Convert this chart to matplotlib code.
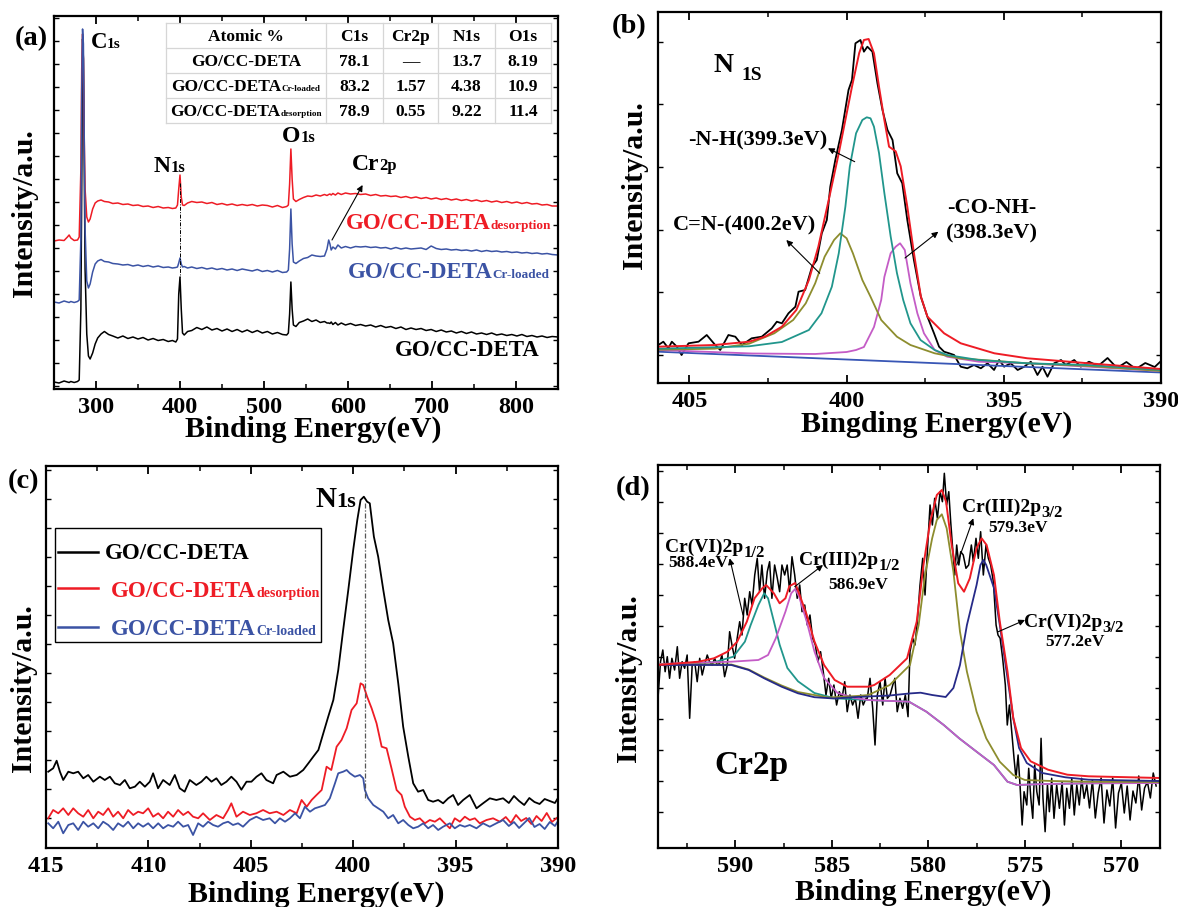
import matplotlib
matplotlib.use("Agg")
import matplotlib.pyplot as plt
import numpy as np
from matplotlib.ticker import MultipleLocator, FixedLocator
from matplotlib.lines import Line2D
from matplotlib.patches import Rectangle, FancyArrowPatch

# ----------------------------------------------------------------- data
# (a) survey spectra
energy_a = [
    250, 256, 262, 266, 268, 270, 274, 278, 280, 282,
    283, 284, 285, 286, 287, 289, 291, 293, 296, 299,
    302, 306, 310, 315, 320, 326, 332, 338, 344, 350,
    356, 362, 368, 374, 380, 386, 391, 395, 397, 398.5,
    400, 401.5, 403, 405, 409, 414, 420, 426, 432, 438,
    444, 450, 456, 462, 468, 474, 480, 486, 492, 498,
    504, 510, 516, 522, 527, 529, 530.5, 532, 533.5, 535,
    538, 542, 547, 552, 557, 562, 567, 572, 575, 577,
    578.5, 580, 582, 585, 588, 592, 597, 603, 609, 615,
    621, 627, 633, 639, 645, 651, 657, 663, 669, 675,
    681, 687, 693, 699, 705, 711, 717, 723, 729, 735,
    741, 747, 753, 759, 765, 771, 777, 783, 789, 795,
    801, 807, 813, 819, 825, 831, 837, 843, 850]
survey_deta = [
    7, 6, 8, 7, 6.5, 7.5, 6.5, 7.5, 9, 80,
    200, 350, 330, 220, 120, 55, 33, 30, 36, 45,
    51, 55, 57.5, 54.5, 53, 51, 53, 50.5, 52, 50,
    51.5, 49, 50.5, 48.5, 49.5, 47.5, 48.5, 47, 50, 95,
    112, 80, 56, 54, 57.5, 58.5, 61.5, 59.5, 62, 59,
    60.5, 58, 60, 57.5, 59.5, 57, 59, 56.5, 58.5, 56,
    57.5, 55, 56.5, 54.5, 54, 56, 75, 107, 80, 64,
    62.5, 66.5, 68, 70, 67.5, 69, 66.5, 67.5, 66, 66,
    65.5, 67, 64.5, 66.5, 64, 66, 64, 65.5, 63.5, 64.5,
    63, 64, 62, 63.5, 61.5, 62.5, 60.5, 62, 59.5, 61,
    59.5, 60.5, 58.5, 59.5, 57.5, 59, 57, 58, 56, 57.5,
    55.5, 57, 55, 56, 54.5, 56, 54, 55, 53.5, 54.5,
    53, 54.5, 52.5, 53.5, 52, 53, 51.5, 52.5, 52]
survey_loaded = [
    87, 86, 88, 87, 86.5, 87.5, 86.5, 87.5, 89, 150,
    300, 360, 345, 250, 160, 108, 101, 105, 117, 125,
    128, 129.5, 127.5, 127, 125.5, 125, 124, 124.5, 123, 124,
    122.5, 123.5, 122, 123, 121.5, 122, 121, 121.5, 122, 126,
    131, 125, 122, 122.5, 121, 122, 120.5, 121.5, 120, 121,
    119.5, 120.5, 119, 120, 118.5, 120, 119, 118, 119.5, 117.5,
    118.5, 117, 118.5, 116.5, 117, 119, 140, 180, 145, 127,
    125.5, 128, 130.5, 131.5, 134, 133, 132.5, 133, 140, 149,
    145, 139, 142, 140, 144, 141, 142.5, 141, 142.5, 142,
    142.5, 141.5, 142, 141, 141.5, 140, 141.5, 140, 141, 140,
    140.5, 141, 139.5, 143, 140.5, 139.5, 140, 139, 139.5, 138.5,
    139, 138, 139, 137.5, 138.5, 137.5, 138, 137, 137.5, 136.5,
    137, 136, 136.5, 135.5, 136, 135, 135.5, 134.5, 134]
survey_desorb = [
    148, 149, 148.5, 152, 154, 151, 148.5, 149, 152, 220,
    320, 355, 330, 250, 200, 172, 167, 170, 180, 186,
    188, 189, 187.5, 187, 185.5, 186, 184.5, 185, 183.5, 184,
    182.5, 183, 181.5, 182.5, 181, 181.5, 180.5, 181, 184, 200,
    214, 192, 184, 183.5, 186, 187.5, 186.5, 187, 185.5, 186.5,
    184.5, 185.5, 184, 185, 183.5, 184.5, 183.5, 184.5, 183, 184,
    183.5, 182, 183.5, 181.5, 182.5, 184, 205, 240, 210, 190,
    187.5, 189.5, 191.5, 193, 192.5, 194, 193, 194.5, 193.5, 194.5,
    195, 194, 195.5, 194, 196, 194.5, 196, 195, 195.5, 194.5,
    195, 193.5, 194.5, 193, 193.5, 192.5, 193, 191.5, 192.5, 191,
    192, 190.5, 191.5, 190, 191, 189.5, 190.5, 189, 190, 188.5,
    189.5, 188, 189, 187.5, 188.5, 187, 188, 186.5, 187.5, 186,
    187, 185.5, 186.5, 185, 185.5, 184, 184.5, 183, 183]

table_header = ["Atomic %", "C1s", "Cr2p", "N1s", "O1s"]
table_samples = ["", "Cr-loaded", "desorption"]
table_values = [["78.1", "\u2014", "13.7", "8.19"],
                ["83.2", "1.57", "4.38", "10.9"],
                ["78.9", "0.55", "9.22", "11.4"]]

# (b) N1s high-resolution fit
n1s_E = [405.99, 405.83, 405.67, 405.56, 405.4, 405.25, 405.03, 404.71, 404.45, 404.18,
         404.02, 403.76, 403.54, 403.33, 403.02, 402.7, 402.38, 402.22, 402.06, 401.85,
         401.63, 401.53, 401.32, 401.1, 400.95, 400.79, 400.63, 400.52, 400.36, 400.15,
         399.94, 399.83, 399.72, 399.56, 399.45, 399.34, 399.18, 399.02, 398.86, 398.7,
         398.54, 398.39, 398.23, 398.07, 397.86, 397.64, 397.43, 397.22, 397.06, 396.9,
         396.74, 396.58, 396.37, 396.16, 395.95, 395.73, 395.52, 395.31, 395.15, 394.99,
         394.78, 394.56, 394.35, 394.14, 393.93, 393.77, 393.61, 393.4, 393.18, 393.03,
         392.76, 392.55, 392.29, 392.0, 391.7, 391.4, 391.1, 390.8, 390.5, 390.2,
         390.0]
n1s_raw = [38, 41.3, 34.7, 41.3, 36.3, 28, 39.7, 41.3, 48, 38,
           33, 48, 46.3, 38, 44.7, 46.3, 54.7, 61.3, 59.7, 69.7,
           76.3, 91.3, 93, 116.3, 123, 149.7, 163, 196.3, 223, 253,
           293, 303, 339.7, 343, 331.3, 336.3, 331.3, 299.7, 273, 253,
           243, 209.7, 199.7, 163, 123, 86.3, 66.3, 49.7, 36.3, 31.3,
           29.7, 28, 16.3, 14.7, 18, 14.7, 19.7, 13, 23, 16.3,
           19.7, 13, 16.3, 21.3, 8, 16.3, 6.3, 19.7, 23, 18,
           23, 16.3, 21.3, 17, 25, 15, 21, 14, 20, 16,
           22]
fit_E = [406.0, 405.25, 404.2, 403.1, 402.6, 402.06, 401.6, 401.2, 400.9, 400.57,
         400.25, 400.04, 399.83, 399.6, 399.45, 399.3, 399.13, 398.97, 398.8, 398.65,
         398.44, 398.28, 398.07, 397.86, 397.64, 397.43, 396.9, 396.37, 395.3, 394.25,
         392.3, 390.0]
fit_sum = [36.3, 37, 38, 41.3, 46.3, 56.3, 73, 103, 136.3, 183,
           229.7, 263, 296.3, 330, 343, 344, 329.7, 296.3, 263, 236.3,
           231.7, 216.7, 176.3, 130, 86.7, 66.3, 49.7, 39.7, 29.7, 24.7,
           19.7, 14]
nh_E = [406.0, 403.1, 402.06, 401.2, 400.8, 400.47, 400.25, 400.04, 399.9, 399.7,
        399.5, 399.36, 399.24, 399.13, 398.97, 398.8, 398.6, 398.4, 398.2, 397.97,
        397.65, 397.2, 396.8, 395.8, 394.25, 392.3, 390.0]
nh_I = [34.3, 36.7, 41, 53, 69.7, 96.3, 129.7, 176.3, 216.3, 249.7,
        263, 265.7, 264.7, 256.3, 230, 190, 146.7, 110, 83, 59.7,
        43, 33, 28, 23, 19.7, 18, 13]
cn_E = [406.0, 404.2, 403.1, 402.3, 401.7, 401.3, 401.0, 400.7, 400.4, 400.2,
        400.0, 399.8, 399.5, 399.24, 398.9, 398.4, 397.97, 397.2, 396.4, 394.25,
        392.3, 390.0]
cn_I = [33.3, 34.3, 39.3, 49.7, 63, 79.7, 99.7, 126.3, 143, 149.7,
        144.7, 129.7, 103, 86.3, 63, 46.3, 38, 29.7, 24.7, 19.7,
        17, 12]
conh_E = [406.0, 403.0, 401.0, 400.0, 399.7, 399.45, 399.13, 398.9, 398.8, 398.6,
          398.44, 398.3, 398.15, 397.97, 397.75, 397.54, 397.2, 396.8, 395.8, 394.25,
          392.3, 390.0]
conh_I = [33, 29.5, 29, 31, 33, 36, 56, 83, 106, 129.7,
          136.3, 139.7, 133, 99.7, 69.7, 49.7, 33, 26.3, 21.3, 19.7,
          16.3, 12]
base_E = [406.0, 390.0]
base_I = [31.3, 10.5]

# (c) N1s comparison
c_deta_E = [414.89, 414.65, 414.48, 414.32, 414.16, 413.91, 413.67, 413.43, 413.18, 412.94,
            412.69, 412.37, 412.13, 411.88, 411.64, 411.39, 411.15, 410.91, 410.66, 410.42,
            410.17, 409.93, 409.77, 409.53, 409.28, 408.96, 408.71, 408.47, 408.23, 407.98,
            407.66, 407.41, 407.17, 406.92, 406.68, 406.44, 406.19, 405.95, 405.7, 405.46,
            405.21, 404.97, 404.72, 404.48, 404.24, 403.91, 403.74, 403.41, 403.09, 402.76,
            402.44, 402.19, 401.95, 401.7, 401.46, 401.22, 400.97, 400.73, 400.49, 400.24,
            400.0, 399.8, 399.64, 399.48, 399.32, 399.19, 398.99, 398.78, 398.53, 398.29,
            398.05, 397.8, 397.56, 397.31, 397.07, 396.83, 396.58, 396.34, 396.1, 395.85,
            395.61, 395.36, 395.12, 394.88, 394.63, 394.31, 393.98, 393.66, 393.33, 393.01,
            392.68, 392.4, 392.15, 391.9, 391.65, 391.4, 391.15, 390.9, 390.65, 390.4,
            390.15, 390.0]
c_deta_I = [76.3, 79.7, 87.3, 76.3, 68, 76.3, 74.7, 76.3, 69.7, 73,
            66.3, 71.3, 68, 71.3, 64.7, 63, 68, 59.7, 61.3, 66.3,
            61.3, 66.3, 74.7, 59.7, 68, 63, 73, 59.7, 56.3, 68,
            63, 66.3, 71.3, 66.3, 69.7, 63, 66.3, 71.3, 66.3, 58.3,
            66.3, 66.3, 71.3, 74.7, 68, 64.7, 73, 76.3, 71.3, 73,
            78, 84.7, 91.3, 98, 114.7, 131.3, 148, 178, 218, 258,
            298, 328, 348, 351.3, 346.3, 344.7, 311.3, 291.3, 258, 228,
            204.7, 164.7, 121.3, 91.3, 64.7, 56.3, 58, 48, 46.3, 48,
            44.7, 49.7, 53, 43, 48, 53, 39.7, 44.7, 49.7, 48,
            49.7, 45, 52, 47, 43, 50, 46, 44, 49, 47,
            45, 50]
c_desorb_E = [414.89, 414.65, 414.4, 414.16, 413.91, 413.67, 413.43, 413.18, 412.94, 412.69,
              412.45, 412.21, 411.96, 411.72, 411.48, 411.23, 410.99, 410.74, 410.5, 410.26,
              410.01, 409.77, 409.52, 409.28, 409.04, 408.79, 408.55, 408.3, 408.06, 407.82,
              407.57, 407.33, 407.0, 406.68, 406.35, 406.11, 405.95, 405.7, 405.38, 405.05,
              404.73, 404.4, 404.08, 403.74, 403.41, 403.09, 402.76, 402.52, 402.27, 402.03,
              401.79, 401.54, 401.3, 401.07, 400.81, 400.57, 400.32, 400.08, 399.83, 399.64,
              399.51, 399.32, 399.1, 398.86, 398.61, 398.37, 398.13, 397.88, 397.64, 397.48,
              397.23, 396.99, 396.75, 396.5, 396.26, 396.01, 395.77, 395.53, 395.28, 395.04,
              394.79, 394.55, 394.31, 394.06, 393.82, 393.49, 393.17, 392.84, 392.55, 392.3,
              392.05, 391.8, 391.55, 391.3, 391.05, 390.8, 390.55, 390.3, 390.0]
c_desorb_I = [29.7, 38, 34.7, 39.7, 33, 39.7, 34.7, 31.3, 38, 29.7,
              36.3, 33, 39.7, 31.3, 36.3, 29.7, 38, 33, 36.3, 34.7,
              39.7, 31.3, 34.7, 29.7, 36.3, 31.3, 38, 33, 36.3, 31.3,
              29.7, 34.7, 28, 33, 29.7, 38, 44.7, 31.3, 36.3, 33,
              34.7, 38, 34.7, 36.3, 33, 38, 34.7, 48, 41.3, 48,
              53, 58, 81.3, 78, 101.3, 108, 119.7, 138, 144.7, 164.7,
              163, 151.3, 139.7, 124.7, 101.3, 99.7, 79.7, 58, 53, 41.3,
              31.3, 28, 29.7, 24.7, 28, 26.3, 29.7, 24.7, 19.7, 29.7,
              26.3, 31.3, 28, 29.7, 24.7, 28, 29.7, 26.3, 31, 25,
              33, 27, 30, 24, 32, 27, 35, 26, 31]
c_loaded_E = [414.89, 414.65, 414.4, 414.16, 413.91, 413.67, 413.43, 413.18, 412.94, 412.69,
              412.45, 412.21, 411.96, 411.72, 411.48, 411.23, 410.99, 410.74, 410.5, 410.26,
              410.01, 409.77, 409.52, 409.28, 409.04, 408.79, 408.55, 408.3, 408.06, 407.82,
              407.57, 407.33, 407.08, 406.84, 406.6, 406.35, 406.11, 405.87, 405.62, 405.38,
              405.05, 404.73, 404.4, 404.08, 403.82, 403.58, 403.33, 403.09, 402.84, 402.6,
              402.36, 402.11, 401.87, 401.62, 401.38, 401.14, 400.89, 400.73, 400.49, 400.32,
              400.16, 399.92, 399.67, 399.51, 399.43, 399.27, 399.02, 398.78, 398.53, 398.29,
              398.05, 397.8, 397.56, 397.31, 397.07, 396.83, 396.58, 396.34, 396.1, 395.85,
              395.61, 395.28, 395.04, 394.79, 394.55, 394.31, 393.98, 393.66, 393.33, 393.01,
              392.68, 392.4, 392.15, 391.9, 391.65, 391.4, 391.15, 390.9, 390.65, 390.4,
              390.15, 390.0]
c_loaded_I = [24.7, 19.7, 26.3, 14.7, 23, 24.7, 18, 26.3, 21.3, 24.7,
              19.7, 26.3, 23, 18, 24.7, 21.3, 26.3, 19.7, 24.7, 21.3,
              24.7, 19.7, 24.7, 19.7, 23, 21.3, 26.3, 21.3, 23, 13,
              24.7, 21.3, 26.3, 23, 21.3, 24.7, 26.3, 23, 24.7, 21.3,
              28, 31.3, 28, 29.7, 24.7, 29.7, 26.3, 29.7, 34.7, 29.7,
              41.3, 36.3, 39.7, 41.3, 43, 49.7, 64.7, 74.7, 76.3, 78,
              74.7, 71.3, 73, 69.7, 58, 49.7, 43, 39.7, 36.3, 29.7,
              33, 24.7, 28, 23, 19.7, 21.3, 24.7, 19.7, 23, 18,
              21.3, 24.7, 19.7, 23, 21.3, 23, 19.7, 24.7, 21.3, 24.7,
              28, 22, 26, 20, 25, 30, 21, 24, 19, 26,
              22, 27]

# (d) Cr2p high-resolution fit
cr_raw_E = [594.0, 593.87, 593.75, 593.63, 593.52, 593.4, 593.28, 593.14, 593.0, 592.88,
            592.75, 592.62, 592.49, 592.36, 592.23, 592.1, 591.97, 591.84, 591.71, 591.59,
            591.45, 591.33, 591.19, 591.07, 590.93, 590.81, 590.69, 590.55, 590.41, 590.29,
            590.17, 590.03, 589.9, 589.77, 589.65, 589.51, 589.38, 589.25, 589.13, 588.99,
            588.86, 588.74, 588.62, 588.48, 588.34, 588.22, 588.1, 587.96, 587.82, 587.7,
            587.58, 587.44, 587.31, 587.18, 587.06, 586.92, 586.79, 586.66, 586.54, 586.4,
            586.27, 586.13, 585.99, 585.85, 585.72, 585.58, 585.44, 585.3, 585.16, 585.03,
            584.89, 584.75, 584.61, 584.47, 584.33, 584.2, 584.06, 583.92, 583.78, 583.64,
            583.5, 583.37, 583.23,
            583.16, 583.02, 582.88, 582.76, 582.64, 582.5, 582.36, 582.24, 582.12, 581.98,
            581.84, 581.73, 581.61, 581.47, 581.33, 581.19, 581.05, 580.95, 580.81, 580.69,
            580.57, 580.43, 580.29, 580.17, 580.05, 579.91, 579.79, 579.67, 579.53, 579.39,
            579.27, 579.17, 579.05, 578.94, 578.84, 578.74, 578.63, 578.53, 578.42, 578.32,
            578.19, 578.05, 577.91, 577.77, 577.67, 577.53, 577.41, 577.29, 577.15, 577.01,
            576.89, 576.77, 576.63, 576.49, 576.39, 576.28, 576.15, 576.01, 575.91, 575.8,
            575.68, 575.56, 575.46, 575.35, 575.25, 575.14, 575.04, 574.9, 574.8, 574.69,
            574.59, 574.49, 574.38, 574.26, 574.16, 574.06, 573.95, 573.83, 573.73, 573.61,
            573.49, 573.35, 573.21, 573.07, 572.95, 572.83, 572.69, 572.57, 572.44, 572.31,
            572.18, 572.06, 571.93, 571.79,
            571.65, 571.5, 571.35, 571.2, 571.05, 570.9, 570.75, 570.6, 570.45, 570.3,
            570.15, 570.0, 569.85, 569.7, 569.55, 569.4, 569.25, 569.1, 568.95, 568.8,
            568.65, 568.5, 568.35, 568.2]
cr_raw_I = [149.7, 186.3, 198, 176.3, 191.3, 169.7, 189.7, 178, 201.3, 169.7,
            186.3, 179.7, 193, 129.7, 183, 186.3, 166.3, 189.7, 173, 183,
            193, 186.3, 183, 189.7, 183, 184.7, 193, 171.3, 183, 216.3,
            203, 189.7, 209.7, 226.3, 213, 249.7, 233, 256.3, 243, 273,
            289.7, 256.3, 283, 249.7, 276.3, 286.3, 249.7, 283, 269.7, 256.3,
            283, 273, 283, 256.3, 291.3, 273, 249.7, 263, 236.3, 243,
            223, 233, 209.7, 203, 186.3, 196.3, 176.3, 153, 169.7, 149.7,
            163, 143, 156.3, 149.7, 166.3, 136.3, 153, 143, 149.7, 129.7,
            153, 143, 149.7,
            149.7, 169.7, 139.7, 103, 153, 166.3, 143, 169.7, 149.7, 153,
            163, 169.7, 136.3, 149.7, 139.7, 153, 131.3, 196.3, 209.7, 203,
            226.3, 263, 289.7, 253, 296.3, 343, 323, 349.7, 329.7, 356.3,
            346.3, 374.7, 343, 356.3, 326.3, 299.7, 273, 303, 283, 296.3,
            293, 279.7, 283, 303, 286.3, 309.7, 289.7, 316.3, 273, 303,
            289.7, 283, 266.3, 223, 213, 209.7, 189.7, 163, 123, 143,
            116.3, 89.7, 69.7, 93, 63, 23, 56.3, 43, 79.7, 49.7,
            29.7, 83, 56.3, 43, 109.7, 49.7, 16.3, 63, 36.3, 69.7,
            29.7, 63, 39.7, 66.3, 23, 59.7, 39.7, 69.7, 33, 63,
            43, 69.7, 49.7, 63,
            40, 68, 30, 55, 70, 25, 58, 42, 70, 20,
            55, 65, 35, 62, 28, 57, 45, 72, 38, 60,
            66, 50, 75, 62]
cr_sum_E = [594, 591.9, 591.1, 590.4, 589.9, 589.4, 589.0, 588.6, 588.4, 588.0,
            587.7, 587.4, 587.2, 586.9, 586.7, 586.3, 585.9, 585.4, 584.85, 584.2,
            583.1, 582.8, 582.0, 581.1, 580.6, 580.25, 579.9, 579.56, 579.3, 579.08,
            578.79, 578.45, 578.15, 577.85, 577.5, 577.24, 576.98, 576.6, 576.3, 575.9,
            575.6, 575.2, 574.7, 573.8, 572.8, 571.7, 568]
cr_sum_I = [183, 186.3, 189.7, 196.3, 206.3, 226.3, 249.7, 259.7, 263, 254.7,
            244.7, 249.7, 261.7, 265, 255, 233.3, 206.7, 183, 168, 161.3,
            161.3, 163, 173, 189.7, 226.3, 283, 326.3, 353, 358, 346.3,
            303, 264.7, 256.3, 269.7, 299.7, 309.7, 303, 273, 226.7, 176.7,
            130, 100, 86.7, 78.3, 73.3, 71.7, 70]
cr6_12_E = [594, 591.1, 590.1, 589.5, 589.2, 588.8, 588.5, 588.3, 588.0, 587.7,
            587.3, 586.75, 585.9, 584.85, 583.1, 581.0, 580.1, 579.2, 578.4, 577.5,
            576.6, 575.9, 575.4, 574.0, 571.7, 568]
cr6_12_I = [183, 185.7, 191.3, 206.3, 223, 243, 254.7, 249.7, 226.7, 203.3,
            180, 166.7, 155, 149.7, 148, 146.3, 136.3, 123, 109.7, 96.3,
            83, 66.3, 63, 64, 64.7, 65]
cr3_12_E = [594, 590.2, 588.8, 588.3, 587.9, 587.4, 587.1, 586.9, 586.7, 586.3,
            585.9, 585.4, 584.7, 583.8, 583.1, 581.0, 580.1, 579.2, 578.4, 577.5,
            576.6, 575.9, 575.4, 574.0, 571.7, 568]
cr3_12_I = [184, 186.3, 188, 193, 209.7, 236.3, 254.7, 259, 251.7, 226.7,
            196.7, 170, 155, 150, 148, 146.3, 136.3, 123, 109.7, 96.3,
            83, 66.3, 63, 64, 64.7, 65]
cr3_32_E = [594, 590.2, 589.3, 588.5, 587.6, 586.75, 585.2, 583.7, 583.1, 582.0,
            580.95, 580.5, 580.17, 579.8, 579.56, 579.3, 579.05, 578.7, 578.36, 578.0,
            577.5, 577.0, 576.3, 575.6, 575.0, 573.6, 571.7, 568]
cr3_32_I = [183.5, 183.5, 178.5, 170.5, 162.5, 156, 150.5, 152, 153, 163,
            183, 223, 273, 309.7, 328, 333.7, 319.7, 276.3, 216.3, 176.3,
            136.3, 109.7, 86.3, 73, 68, 67, 66.3, 66]
cr6_32_E = [594, 590.2, 589.3, 588.5, 587.6, 586.75, 585.9, 584.9, 583.7, 582.0,
            581.0, 580.4, 579.8, 579.1, 578.7, 578.36, 578.0, 577.5, 577.3, 577.15,
            577.0, 576.6, 576.3, 575.95, 575.6, 575.3, 574.9, 574.1, 572.9, 571.7,
            568]
cr6_32_I = [183, 183, 178, 169.7, 161.3, 154.7, 150.8, 149.5, 151, 152.5,
            154.5, 155.3, 153, 151, 160, 183, 223, 263, 283, 288,
            283, 260, 223.3, 176.7, 130, 100, 85, 75, 70.7, 68.3,
            67]

# ----------------------------------------------------------------- style
plt.rcParams["font.family"] = ["Liberation Serif", "DejaVu Serif"]
plt.rcParams["font.weight"] = "bold"

W, H = 1178, 907
fig = plt.figure(figsize=(W / 100, H / 100), dpi=100)
fig.patch.set_facecolor("white")
R = fig.canvas.get_renderer()

RED = "#ee1c25"
BLUE = "#3b53a4"
TEAL = "#21968c"
OLIVE = "#8d8d2e"
MAGENTA = "#c45cc6"
NAVY = "#262a88"
BASEBLUE = "#3856b5"


def fx(x):
    return x / W


def fy(y):
    return 1 - y / H


def axes_px(l, t, r, b):
    return fig.add_axes([l / W, 1 - b / H, (r - l) / W, (b - t) / H])


def mtext(x, y, parts, ha="left", z=3):
    objs, widths = [], []
    for s, size, color, dy in parts:
        t = fig.text(0, 0, s, fontsize=size, color=color, fontweight="bold",
                     ha="left", va="baseline", zorder=z)
        widths.append(t.get_window_extent(R).width)
        objs.append(t)
    cur = x - (sum(widths) / 2 if ha == "center" else 0)
    for t, w, p in zip(objs, widths, parts):
        t.set_position((fx(cur), fy(y + p[3])))
        cur += w


def arrow(x0, y0, x1, y1):
    fig.add_artist(FancyArrowPatch((fx(x0), fy(y0)), (fx(x1), fy(y1)),
                                   transform=fig.transFigure, arrowstyle="-|>",
                                   mutation_scale=9, lw=0.8, color="k",
                                   shrinkA=0, shrinkB=0, zorder=4))


def seg(x0, y0, x1, y1, color, lw, z=6):
    fig.add_artist(Line2D([fx(x0), fx(x1)], [fy(y0), fy(y1)],
                          transform=fig.transFigure, color=color, lw=lw, zorder=z))


def style(ax, xlim, ylim, xmaj, xmin, yticks):
    ax.set_xlim(*xlim)
    ax.set_ylim(*ylim)
    for s in ax.spines.values():
        s.set_linewidth(1.6)
    ax.xaxis.set_major_locator(MultipleLocator(xmaj))
    ax.xaxis.set_minor_locator(MultipleLocator(xmin))
    ax.yaxis.set_major_locator(FixedLocator(yticks))
    ax.tick_params(which="both", direction="in", top=True, right=True)
    ax.tick_params(axis="x", which="major", length=6, width=1.3, labelsize=17.5, pad=6)
    ax.tick_params(axis="x", which="minor", length=3.5, width=1.1)
    ax.tick_params(axis="y", which="major", length=3.5, width=1.0, labelleft=False)


def xlabel(cx, base, s):
    fig.text(fx(cx), fy(base), s, fontsize=21.5, ha="center", va="baseline", fontweight="bold")


def ylabel(cx, cy):
    fig.text(fx(cx), fy(cy), "Intensity/a.u.", fontsize=21.5, rotation=90,
             ha="center", va="center", fontweight="bold")


# ----------------------------------------------------------------- (a)
axA = axes_px(54, 16, 558, 389)
axA.plot(energy_a, survey_deta, color="k", lw=1.1)
axA.plot(energy_a, survey_desorb, color=RED, lw=1.1)
axA.plot(energy_a, survey_loaded, color=BLUE, lw=1.1)
axA.plot([400, 400], [206, 112], color="k", lw=0.7, ls=(0, (4, 1.5, 1, 1.5)))
style(axA, (250, 850), (0, 373), 100, 50, list(range(3, 373, 23)))
xlabel(313.5, 437, "Binding Energy(eV)")
ylabel(25, 213)
mtext(14.8, 45, [("(a)", 20.5, "k", 0)])
mtext(90.6, 48.3, [("C", 16.5, "k", 0), ("1s", 11, "k", 0)])
mtext(153.5, 171.7, [("N", 17, "k", 0), ("1s", 12, "k", 0)])
mtext(282, 141.7, [("O", 17, "k", 0), ("1s", 12, "k", 0)])
mtext(351.5, 170, [("Cr", 17, "k", 0), ("2p", 12, "k", 0)])
arrow(332, 240, 362.6, 185)
mtext(346, 229.3, [("GO/CC-DETA", 16.5, RED, 0), ("desorption", 9.5, RED, 0)])
mtext(348, 278.3, [("GO/CC-DETA", 16.5, BLUE, 0), ("Cr-loaded", 9.5, BLUE, 0)])
mtext(395, 356, [("GO/CC-DETA", 16.5, "k", 0)])

# table
cols = [166, 326, 383, 438, 495, 551]
rows = [23, 48, 73, 98, 123]
fig.add_artist(Rectangle((fx(cols[0]), fy(rows[-1])), (cols[-1] - cols[0]) / W,
                         (rows[-1] - rows[0]) / H, transform=fig.transFigure,
                         facecolor="white", edgecolor="none", zorder=5))
for yv in rows:
    seg(cols[0], yv, cols[-1], yv, "#d6d6d6", 0.9)
for xv in cols:
    seg(xv, rows[0], xv, rows[-1], "#d6d6d6", 0.9)
centers = [(cols[i] + cols[i + 1]) / 2 for i in range(5)]
for i, s in enumerate(table_header):
    mtext(centers[i], rows[0] + 18, [(s, 12.5, "k", 0)], ha="center", z=7)
for r, (suffix, vals) in enumerate(zip(table_samples, table_values)):
    base = rows[r + 1] + 18
    parts = [("GO/CC-DETA", 12.5, "k", 0)]
    if suffix:
        parts.append((suffix, 6.6, "k", 0))
    mtext(centers[0], base, parts, ha="center", z=7)
    for c, v in enumerate(vals):
        mtext(centers[c + 1], base, [(v, 12.5, "k", 0)], ha="center", z=7)

# ----------------------------------------------------------------- (b)
axB = axes_px(658, 12, 1161, 383)
axB.plot(n1s_E, n1s_raw, color="k", lw=1.3)
axB.plot(base_E, base_I, color=BASEBLUE, lw=1.3)
axB.plot(conh_E, conh_I, color=MAGENTA, lw=1.3)
axB.plot(cn_E, cn_I, color=OLIVE, lw=1.3)
axB.plot(nh_E, nh_I, color=TEAL, lw=1.3)
axB.plot(fit_E, fit_sum, color=RED, lw=1.4)
style(axB, (406, 390), (0, 371), 5, 2.5, [28, 90.7, 153.4, 216.1, 278.8, 341.5])
xlabel(936.5, 432, "Bingding Energy(eV)")
ylabel(634.5, 185)
mtext(612, 33, [("(b)", 20.5, "k", 0)])
mtext(713, 71.7, [("N", 20, "k", 0)])
mtext(741, 80, [("1S", 14, "k", 0)])
mtext(688, 145, [("-N-H(399.3eV)", 16, "k", 0)])
arrow(854.7, 161.7, 828, 148.3)
mtext(673, 230.7, [("C=N-(400.2eV)", 16, "k", 0)])
arrow(819.7, 273.3, 786.3, 240)
mtext(946.7, 213.3, [("-CO-NH-", 16, "k", 0)])
mtext(946, 238.3, [("(398.3eV)", 16, "k", 0)])
arrow(905, 258, 938.3, 231.7)

# ----------------------------------------------------------------- (c)
axC = axes_px(46, 466, 558, 848)
axC.plot(c_deta_E, c_deta_I, color="k", lw=1.3)
axC.plot(c_desorb_E, c_desorb_I, color=RED, lw=1.3)
axC.plot(c_loaded_E, c_loaded_I, color=BLUE, lw=1.3)
axC.plot([399.43, 399.43], [345, 48], color="#555555", lw=0.9, ls=(0, (4, 1.5, 1, 1.5)))
style(axC, (415, 390), (0, 382), 5, 2.5, list(range(30, 382, 29)))
xlabel(316, 902, "Binding Energy(eV)")
ylabel(24, 688)
mtext(8, 488, [("(c)", 20.5, "k", 0)])
mtext(315, 506.7, [("N", 21, "k", 0), ("1s", 16, "k", 0)])
# legend
fig.add_artist(Rectangle((fx(55), fy(642)), (321 - 55) / W, (642 - 528) / H,
                         transform=fig.transFigure, facecolor="white",
                         edgecolor="k", lw=1.0, zorder=4))
seg(58, 551.7, 98, 551.7, "k", 1.8)
seg(58, 588.3, 98, 588.3, RED, 1.8)
seg(58, 626.7, 98, 626.7, BLUE, 1.8)
mtext(104.7, 559.3, [("GO/CC-DETA", 16.5, "k", 0)], z=7)
mtext(111.3, 596.7, [("GO/CC-DETA", 16.5, RED, 0), ("desorption", 10, RED, 0)], z=7)
mtext(111.3, 635, [("GO/CC-DETA", 16.5, BLUE, 0), ("Cr-loaded", 10, BLUE, 0)], z=7)

# ----------------------------------------------------------------- (d)
axD = axes_px(658, 465, 1160, 848)
axD.plot(cr_raw_E, cr_raw_I, color="k", lw=1.1)
axD.plot(cr6_12_E, cr6_12_I, color=TEAL, lw=1.3)
axD.plot(cr3_12_E, cr3_12_I, color=MAGENTA, lw=1.3)
axD.plot(cr3_32_E, cr3_32_I, color=OLIVE, lw=1.3)
axD.plot(cr6_32_E, cr6_32_I, color=NAVY, lw=1.3)
axD.plot(cr_sum_E, cr_sum_I, color=RED, lw=1.4)
style(axD, (594, 568), (0, 383), 5, 2.5, list(range(36, 383, 31)))
xlabel(923.5, 900, "Binding Energy(eV)")
ylabel(628.5, 678)
mtext(616, 495, [("(d)", 20.5, "k", 0)])
mtext(665, 552, [("Cr(VI)2p", 14, "k", 0), ("1/2", 12, "k", 5)])
mtext(668, 567, [("588.4eV", 12.5, "k", 0)])
arrow(743, 615, 729.7, 558.3)
mtext(799, 565, [("Cr(III)2p", 14, "k", 0), ("1/2", 12, "k", 5)])
mtext(828, 589, [("586.9eV", 12.5, "k", 0)])
arrow(794.7, 586.7, 823, 565)
mtext(961.7, 512, [("Cr(III)2p", 14, "k", 0), ("3/2", 12, "k", 5)])
mtext(988, 531.7, [("579.3eV", 12.5, "k", 0)])
arrow(956.7, 565, 973.3, 518.3)
mtext(1024, 626.7, [("Cr(VI)2p", 14, "k", 0), ("3/2", 12, "k", 5)])
mtext(1045, 646, [("577.2eV", 12.5, "k", 0)])
arrow(998.3, 631.7, 1025, 620)
mtext(714.7, 774, [("Cr2p", 24, "k", 0)])

fig.savefig("out.png", dpi=100, facecolor="white")
